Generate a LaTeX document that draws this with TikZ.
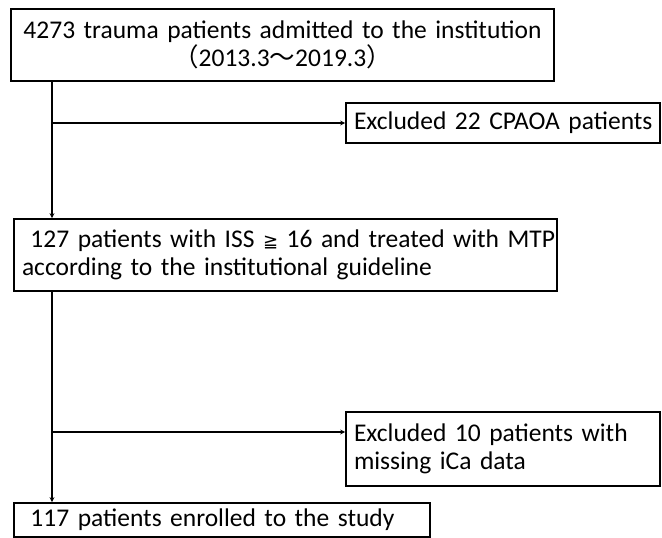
\documentclass[tikz,border=0pt]{standalone}
\usepackage{fontspec}
\setmainfont{Carlito}[WordSpace=0.85]
\newfontfamily\cjk{Noto Sans CJK JP}
\newfontfamily\sym{DejaVu Sans}
\usetikzlibrary{arrows.meta}
\begin{document}
\begin{tikzpicture}[x=1pt,y=-1pt,
  box/.style={draw,line width=1.7pt,inner ysep=0pt,inner xsep=8pt,font=\fontsize{25.5}{28}\selectfont},
  arr/.style={line width=1.5pt,-{Stealth[length=5pt,width=5pt]}}]
\useasboundingbox (0,0) rectangle (662,538);
% box1: (11,9)-(554,81)
\node[box, text width=527pt, minimum height=72pt, align=center] (b1) at (282.5,45)
  {\mbox{4273 trauma patients admitted to the institution}\\\mbox{{\cjk （}2013.3{\cjk 〜}2019.3{\cjk ）}}};
% e1: (346,103)-(660,143)
\node[box, text width=298pt, minimum height=40pt, align=left] (e1) at (503,123)
  {\mbox{Excluded 22 CPAOA patients}};
% box2: (14,219)-(557,291)
\node[box, text width=527pt, minimum height=72pt, align=left] (b2) at (285.5,255)
  {\mbox{\ 127 patients with ISS {\sym\fontsize{18}{28}\selectfont ≧} 16 and treated with MTP}\\\mbox{according to the institutional guideline}};
% e2: (346,412)-(660,486)
\node[box, text width=298pt, minimum height=74pt, align=left] (e2) at (503,449)
  {\mbox{Excluded 10 patients with}\\\mbox{missing iCa data}};
% b3: (14,503)-(430,537)
\node[box, text width=400pt, minimum height=34pt, align=left] (b3) at (222,520)
  {\mbox{\ 117 patients enrolled to the study}};
\coordinate (t1) at (52,0 |- b1.south);
\coordinate (c1) at (52,0 |- e1.west);
\coordinate (t2) at (52,0 |- b2.south);
\coordinate (c2) at (52,432);
\draw[arr] (t1) -- (t1 |- b2.north);
\draw[arr] (c1) -- (e1.west);
\draw[arr] (t2) -- (t2 |- b3.north);
\draw[arr] (c2) -- (c2 -| e2.west);
\end{tikzpicture}
\end{document}
